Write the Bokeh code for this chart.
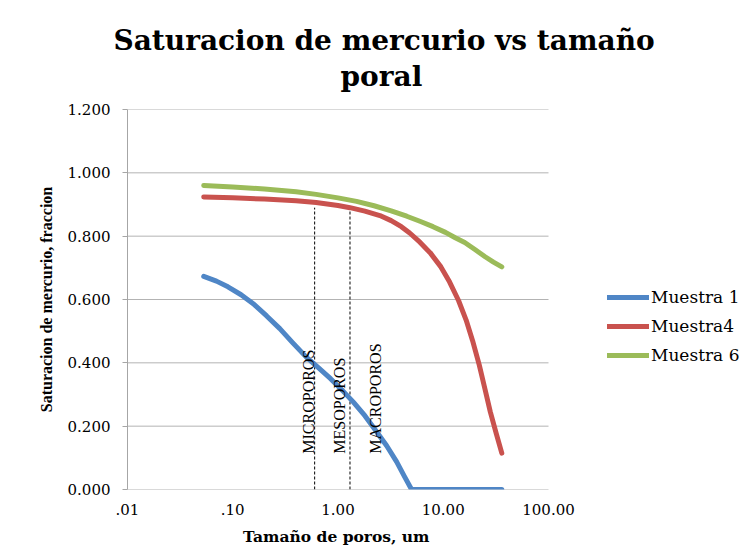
import math
from bokeh.plotting import figure
from bokeh.models import (Range1d, FixedTicker, PrintfTickFormatter, CustomJSTickFormatter,
                          Legend, LegendItem, Title, ColumnDataSource)
from bokeh.core.properties import value
from bokeh.embed import file_html
from bokeh.resources import INLINE

# ---------------- data ----------------
x_m1 = [0.053, 0.07, 0.09, 0.12, 0.16, 0.21, 0.28, 0.37, 0.5, 0.65, 0.85, 1.1, 1.4, 1.8, 2.3, 2.9, 3.6, 4.3, 5.0, 36.0]
y_m1 = [0.673, 0.658, 0.640, 0.615, 0.584, 0.548, 0.508, 0.464, 0.418, 0.385, 0.350, 0.313, 0.276, 0.233, 0.185, 0.138, 0.088, 0.040, 0.000, 0.000]

x_m4 = [0.053, 0.1, 0.2, 0.4, 0.62, 1.0, 1.3, 1.8, 2.5, 3.2, 4.0, 4.8, 6.0, 7.5, 9.5, 11.5, 14.0, 16.5, 19.0, 22.0, 25.0, 28.0, 32.0, 36.0]
y_m4 = [0.924, 0.921, 0.917, 0.912, 0.906, 0.897, 0.890, 0.879, 0.865, 0.849, 0.830, 0.810, 0.781, 0.748, 0.703, 0.655, 0.596, 0.535, 0.470, 0.393, 0.315, 0.245, 0.175, 0.115]

x_m6 = [0.053, 0.1, 0.2, 0.4, 0.62, 1.0, 1.5, 2.2, 3.2, 4.5, 6.0, 8.0, 10.5, 13.0, 16.0, 20.0, 25.0, 30.0, 36.0]
y_m6 = [0.960, 0.955, 0.949, 0.940, 0.932, 0.921, 0.910, 0.896, 0.880, 0.863, 0.847, 0.830, 0.812, 0.795, 0.780, 0.758, 0.735, 0.718, 0.703]

series_names = ["Muestra 1", "Muestra4", "Muestra 6"]

# pore-class boundaries (um) and their top value
boundary_x = [0.6, 1.3]
boundary_top = 0.89
region_labels = ["MICROPOROS", "MESOPOROS", "MACROPOROS"]
region_label_x = [0.52, 1.04, 2.25]
region_label_y = [0.113, 0.113, 0.113]

xtick_values = [0.01, 0.1, 1.0, 10.0, 100.0]
xtick_labels = [".01", ".10", "1.00", "10.00", "100.00"]
ytick_values = [0.0, 0.2, 0.4, 0.6, 0.8, 1.0, 1.2]

title_lines = ["Saturacion de mercurio vs tamaño", "poral"]
x_title = "Tamaño de poros, um"
y_title = "Saturacion de mercurio, fraccion"

# ---------------- styles / layout ----------------
colors = ["#4F86C6", "#C9524E", "#9BBB59"]
SERIF = "DejaVu Serif"
SERIF2 = "Liberation Serif"
GRID = "#B3B3B3"

plot_w = 421            # width of the drawn plot area (px)
frame_w = 613           # frame is extended to the right to host the legend
frame_h = 380
x_lo, x_hi = xtick_values[0], xtick_values[-1]
decades = math.log10(x_hi) - math.log10(x_lo)
x_end = x_lo * 10 ** (decades * frame_w / plot_w)

p = figure(frame_width=frame_w, frame_height=frame_h, x_axis_type="log",
           x_range=Range1d(x_lo, x_end), y_range=Range1d(ytick_values[0], ytick_values[-1]),
           output_backend="svg", toolbar_location=None, title=None,
           min_border_left=127, min_border_right=0,
           min_border_top=109, min_border_bottom=62)
p.outline_line_color = None
p.background_fill_color = "white"
p.border_fill_color = "white"

# titles (first added is closest to the plot)
t2 = Title(text=title_lines[1], align="left", offset=213, text_font=SERIF,
           text_font_size="28px", text_font_style="bold", text_color="black", standoff=33)
t1 = Title(text=title_lines[0], align="left", offset=-14, text_font=SERIF,
           text_font_size="28px", text_font_style="bold", text_color="black", standoff=-30)
p.add_layout(t2, "above")
p.add_layout(t1, "above")

# x axis
xa = p.xaxis[0]
xa.ticker = FixedTicker(ticks=xtick_values, minor_ticks=[])
xa.formatter = CustomJSTickFormatter(args=dict(vals=xtick_values, labs=xtick_labels), code="""
    for (let i = 0; i < vals.length; i++) {
        if (Math.abs(Math.log10(vals[i]) - Math.log10(tick)) < 1e-6) return labs[i];
    }
    return '';
""")
xa.major_label_text_font = SERIF
xa.major_label_text_font_size = "15px"
xa.major_label_text_color = "black"
xa.major_label_standoff = 14
xa.major_tick_out = 0
xa.major_tick_in = 0
xa.minor_tick_out = 0
xa.minor_tick_in = 0
xa.axis_line_color = None

# x axis label centred under the drawn plot area, not the extended frame
xa.axis_label = None
p.add_layout(Title(text=x_title, align="left", offset=(plot_w - 190) / 2, text_font=SERIF,
                   text_font_size="15.5px", text_font_style="bold", text_color="black",
                   standoff=14), "below")

# y axis
ya = p.yaxis[0]
ya.ticker = FixedTicker(ticks=ytick_values, minor_ticks=[])
ya.formatter = PrintfTickFormatter(format="%.3f")
ya.axis_label = y_title
ya.axis_label_text_font = SERIF2
ya.axis_label_text_font_size = "16px"
ya.axis_label_text_font_style = "bold"
ya.axis_label_text_color = "black"
ya.axis_label_standoff = 10
ya.major_label_text_font = SERIF
ya.major_label_text_font_size = "15px"
ya.major_label_text_color = "black"
ya.major_label_standoff = 12
ya.major_tick_out = 5
ya.major_tick_in = 0
ya.minor_tick_out = 0
ya.minor_tick_in = 0
ya.axis_line_color = "#A6A6A6"
ya.major_tick_line_color = "#A6A6A6"

# horizontal grid lines limited to the plot area (0.01 .. 100)
p.xgrid.visible = False
p.ygrid.visible = False
p.segment(x0=[x_lo] * len(ytick_values), y0=ytick_values,
          x1=[x_hi] * len(ytick_values), y1=ytick_values,
          line_color=GRID, line_width=1)

# boundaries
p.segment(x0=boundary_x, y0=[0.0] * len(boundary_x), x1=boundary_x,
          y1=[boundary_top] * len(boundary_x), line_color="black", line_width=1,
          line_dash="3 2")

# series
renderers = []
for xs, ys, c in zip([x_m1, x_m4, x_m6], [y_m1, y_m4, y_m6], colors):
    r = p.line(xs, ys, line_color=c, line_width=5, line_join="round", line_cap="round")
    renderers.append(r)

# region labels
src = ColumnDataSource(dict(x=region_label_x, y=region_label_y, t=region_labels))
p.text(x="x", y="y", text="t", source=src, angle=math.pi / 2, text_align="left",
       text_baseline="middle", text_font=value(SERIF2), text_font_size="16px",
       text_color="black")

legend = Legend(items=[LegendItem(label=n, renderers=[r]) for n, r in zip(series_names, renderers)],
                location=(480, 124), orientation="vertical",
                glyph_width=42, glyph_height=20, label_height=20, spacing=9,
                label_standoff=2, padding=0, margin=0,
                border_line_color=None, background_fill_alpha=0,
                label_text_font=SERIF, label_text_font_size="17px", label_text_color="black")
p.add_layout(legend, "center")

open("out.html", "w").write(file_html(p, INLINE))
